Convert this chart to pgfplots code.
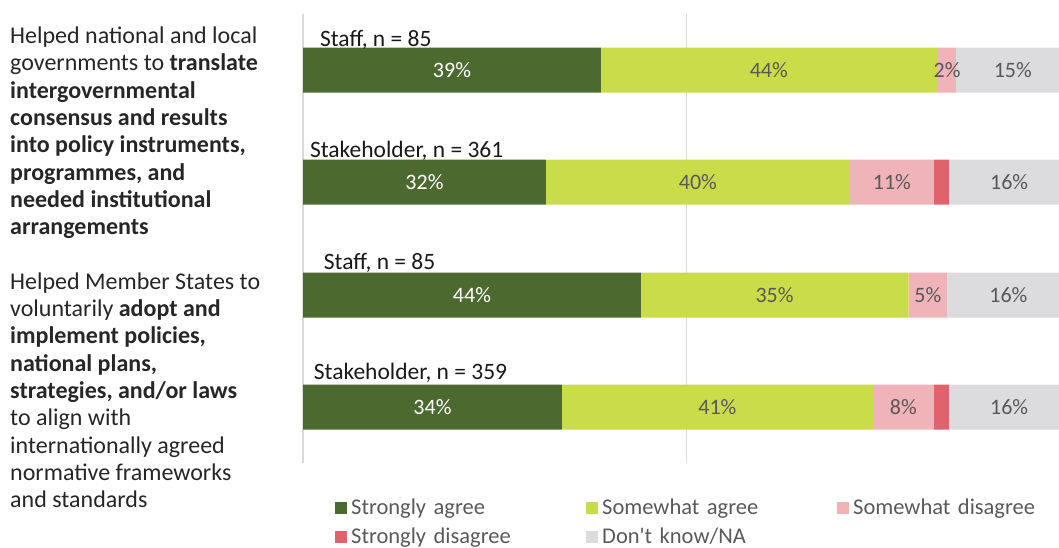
\documentclass[border=0pt]{standalone}
\usepackage{pgfplots}
\pgfplotsset{compat=1.18}
\usepackage{fontspec}
\setmainfont{Carlito}
\definecolor{cSA}{HTML}{4C6A2F}
\definecolor{cMA}{HTML}{C9DC4A}
\definecolor{cMD}{HTML}{F0B3B7}
\definecolor{cSD}{HTML}{E0626C}
\definecolor{cDK}{HTML}{DCDCDE}
\definecolor{cTxt}{HTML}{595959}
\definecolor{cLeft}{HTML}{262626}
\definecolor{cGrid}{HTML}{D9D9D9}
\newcommand\lline[2]{\node[anchor=base west, inner sep=0pt, text=cLeft, font=\fontsize{24}{27}\selectfont] at (10pt,-#1pt) {#2};}
\begin{document}
\begin{tikzpicture}
\useasboundingbox (0,0) rectangle (1059pt,-548pt);
% left text block 1
\lline{43.5}{Helped national and local}
\lline{70.8}{governments to \textbf{translate}}
\lline{98.1}{\textbf{intergovernmental}}
\lline{125.4}{\textbf{consensus and results}}
\lline{152.7}{\textbf{into policy instruments,}}
\lline{180.0}{\textbf{programmes, and}}
\lline{207.3}{\textbf{needed institutional}}
\lline{234.6}{\textbf{arrangements}}
% left text block 2
\lline{289.3}{Helped Member States to}
\lline{316.6}{voluntarily \textbf{adopt and}}
\lline{343.9}{\textbf{implement policies,}}
\lline{371.2}{\textbf{national plans,}}
\lline{398.5}{\textbf{strategies, and/or laws}}
\lline{425.8}{to align with}
\lline{453.1}{internationally agreed}
\lline{480.4}{normative frameworks}
\lline{507.7}{and standards}

\begin{axis}[
  at={(303pt,-463pt)}, anchor=south west,
  width=756pt, height=449pt, scale only axis,
  xmin=0, xmax=98.6, ymin=14, ymax=463, y dir=reverse,
  xbar stacked, bar width=45pt,
  axis line style={draw=none},
  xtick={0,50}, xticklabels={}, ytick=\empty,
  major tick length=0pt,
  xmajorgrids, grid style={draw=cGrid, line width=1.5pt},
  legend columns=3,
  legend image code/.code={\fill[#1] (0pt,-6pt) rectangle (12pt,6pt);},
  legend style={at={(axis description cs:0.0423,-0.0757)}, anchor=north west,
    draw=none, fill=none, inner sep=0pt, row sep=8pt,
    font=\fontsize{22.5}{24}\selectfont, text=cTxt,
    nodes={text width=231pt, align=left, inner xsep=4pt, inner ysep=2pt}},
  legend cell align=left,
]
\addplot[fill=cSA, draw=none] coordinates {(38.85,70) (31.68,182) (44.07,295) (33.77,407)};
\addlegendentry{Strongly agree}
\addplot[fill=cMA, draw=none] coordinates {(43.81,70) (39.64,182) (34.93,295) (40.55,407)};
\addlegendentry{Somewhat agree}
\addplot[fill=cMD, draw=none] coordinates {(2.48,70) (10.95,182) (4.96,295) (7.95,407)};
\addlegendentry{Somewhat disagree}
\addplot[fill=cSD, draw=none] coordinates {(0,70) (1.95,182) (0,295) (1.95,407)};
\addlegendentry{Strongly disagree}
\addplot[fill=cDK, draw=none] coordinates {(14.86,70) (15.78,182) (16.04,295) (15.78,407)};
\addlegendentry{Don\textquotesingle t know/NA}
\end{axis}

\begin{axis}[
  at={(303pt,-463pt)}, anchor=south west,
  width=756pt, height=449pt, scale only axis,
  xmin=0, xmax=98.6, ymin=14, ymax=463, y dir=reverse,
  hide axis, clip=false,
  nodes near coords, point meta=explicit symbolic,
  every node near coord/.style={anchor=center, font=\fontsize{22}{24}\selectfont},
]
\addplot[draw=none, mark=none, every node near coord/.append style={text=white}] table[meta=lab] {
x y lab
19.43 70 39\%
15.84 182 32\%
22.04 295 44\%
16.89 407 34\%
};
\addplot[draw=none, mark=none, every node near coord/.append style={text=cTxt}] table[meta=lab] {
x y lab
60.75 70 44\%
84.0 70 2\%
92.57 70 15\%
51.5 182 40\%
76.8 182 11\%
92.1 182 16\%
61.5 295 35\%
81.5 295 5\%
92.0 295 16\%
54.05 407 41\%
78.3 407 8\%
92.1 407 16\%
};
\node[anchor=base west, inner sep=0pt, text=black!90, font=\fontsize{23.5}{24}\selectfont] at (axis cs:2.2,46.5) {Staff, n = 85};
\node[anchor=base west, inner sep=0pt, text=black!90, font=\fontsize{23.5}{24}\selectfont] at (axis cs:0.9,157) {Stakeholder, n = 361};
\node[anchor=base west, inner sep=0pt, text=black!90, font=\fontsize{23.5}{24}\selectfont] at (axis cs:2.7,269) {Staff, n = 85};
\node[anchor=base west, inner sep=0pt, text=black!90, font=\fontsize{23.5}{24}\selectfont] at (axis cs:1.4,379) {Stakeholder, n = 359};
\end{axis}
\end{tikzpicture}
\end{document}
